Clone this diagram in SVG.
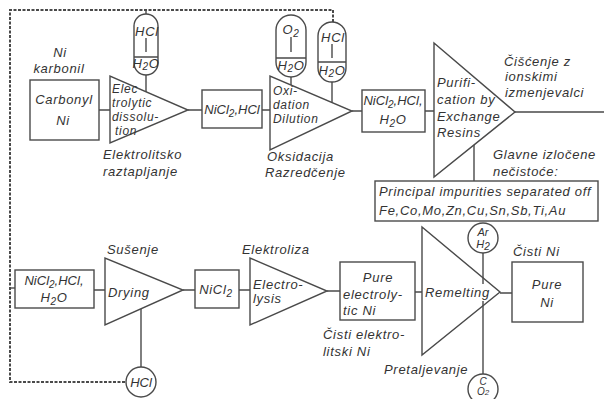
<svg xmlns="http://www.w3.org/2000/svg" width="604" height="399" viewBox="0 0 604 399">
<style>
.s{fill:none;stroke:#4a4a4a;stroke-width:1.4}
.d{fill:none;stroke:#4a4a4a;stroke-width:2;stroke-dasharray:3 1.5}
text{font-family:"Liberation Sans",Arial,sans-serif;font-style:italic;font-size:13px;fill:#333;letter-spacing:0.7px}
.m{text-anchor:middle}
.sub{font-size:10px}
.t{font-size:12px}
</style>
<rect width="604" height="399" fill="#fff"/>
<g id="connectors">
<path class="d" d="M333 22 V10 H10 V382 H126"/>
<path class="s" d="M10 288 H15"/>
<path class="s" d="M146 10 V14"/>
<path class="s" d="M99 110 H110 M188 110 H202 M262 110 H270 M352 111 H362 M425 111 H434 M515 112 H604"/>
<path class="s" d="M146 75 V92 M291 77 V85 M332 82 V102 M474 145 V181"/>
<path class="s" d="M94 290 H105 M183 290 H195 M239 290 H250 M327 291 H340 M415 292 H422 M500 293 H512"/>
<path class="s" d="M141 309 V367 M483 253 V284 M483 301 V374"/>
</g>
<g id="carbonyl-ni">
<rect class="s" x="30" y="80" width="69" height="60"/>
<text class="m" x="64" y="104">Carbonyl</text>
<text class="m" x="63" y="125">Ni</text>
<text class="m" x="60" y="57">Ni</text>
<text class="m" x="59" y="73">karbonil</text>
</g>
<g id="electrolytic-dissolution">
<polygon class="s" points="110,76 110,143 188,110"/>
<text class="t" x="112" y="93">Elec</text>
<text class="t" x="112" y="107">trolytic</text>
<text class="t" x="112" y="121">dissolu-</text>
<text class="t" x="115" y="135">tion</text>
<text x="103" y="159">Elektrolitsko</text>
<text x="103" y="176">raztapljanje</text>
</g>
<g id="hcl-h2o-1">
<rect class="s" x="134" y="14" width="24" height="61" rx="12"/>
<path class="s" d="M146 38 V52 M134 57 H158"/>
<text class="m" x="147" y="36">HCl</text>
<text class="m" x="146" y="68">H<tspan class="sub" dy="2">2</tspan><tspan dy="-2">O</tspan></text>
</g>
<g id="nicl2-hcl">
<rect class="s" x="202" y="90" width="60" height="38"/>
<text class="m" x="232" y="114" style="letter-spacing:0">NiCl<tspan class="sub" dy="3">2</tspan><tspan dy="-3">,HCl</tspan></text>
</g>
<g id="oxidation-dilution">
<polygon class="s" points="270,76 270,150 352,111"/>
<text class="t" x="273" y="95">Oxi-</text>
<text class="t" x="273" y="109">dation</text>
<text class="t" x="273" y="123">Dilution</text>
<text x="267" y="161">Oksidacija</text>
<text x="265" y="177">Razredčenje</text>
</g>
<g id="o2-h2o">
<rect class="s" x="276" y="15" width="30" height="62" rx="15"/>
<path class="s" d="M291 37 V52 M276 58 H306"/>
<text class="m" x="291" y="34">O<tspan class="sub" dy="3">2</tspan></text>
<text class="m" x="291" y="70">H<tspan class="sub" dy="2">2</tspan><tspan dy="-2">O</tspan></text>
</g>
<g id="hcl-h2o-2">
<rect class="s" x="318" y="22" width="28" height="60" rx="14"/>
<path class="s" d="M332 44 V58 M318 62 H346"/>
<text class="m" x="333" y="42">HCl</text>
<text class="m" x="332" y="75">H<tspan class="sub" dy="2">2</tspan><tspan dy="-2">O</tspan></text>
</g>
<g id="nicl2-hcl-h2o-top">
<rect class="s" x="362" y="90" width="63" height="42"/>
<text class="m" x="393" y="105" style="letter-spacing:0">NiCl<tspan class="sub" dy="3">2</tspan><tspan dy="-3">,HCl,</tspan></text>
<text class="m" x="393" y="124">H<tspan class="sub" dy="3">2</tspan><tspan dy="-3">O</tspan></text>
</g>
<g id="purification">
<polygon class="s" points="434,43 434,177 515,112"/>
<text x="437" y="87">Purifi-</text>
<text x="437" y="104">cation by</text>
<text x="437" y="121">Exchange</text>
<text x="437" y="137">Resins</text>
<text x="504" y="66">Čišćenje z</text>
<text x="505" y="81">ionskimi</text>
<text x="505" y="97">izmenjevalci</text>
</g>
<g id="impurities">
<text x="493" y="159">Glavne izločene</text>
<text x="493" y="176">nečistoće:</text>
<rect class="s" x="375" y="181" width="223" height="40"/>
<text x="379" y="196">Principal impurities separated off</text>
<text x="379" y="215">Fe,Co,Mo,Zn,Cu,Sn,Sb,Ti,Au</text>
</g>
<g id="nicl2-hcl-h2o-bottom">
<rect class="s" x="15" y="270" width="79" height="38"/>
<text class="m" x="54" y="285" style="letter-spacing:0">NiCl<tspan class="sub" dy="3">2</tspan><tspan dy="-3">,HCl,</tspan></text>
<text class="m" x="54" y="302">H<tspan class="sub" dy="3">2</tspan><tspan dy="-3">O</tspan></text>
</g>
<g id="drying">
<polygon class="s" points="105,258 105,325 183,290"/>
<text x="108" y="297">Drying</text>
<text x="107" y="254">Sušenje</text>
</g>
<g id="hcl-circle">
<circle class="s" cx="141" cy="382" r="15"/>
<text class="m" x="141" y="387" style="letter-spacing:0">HCl</text>
</g>
<g id="nicl2">
<rect class="s" x="195" y="270" width="44" height="38"/>
<text class="m" x="216" y="294">NiCl<tspan class="sub" dy="3">2</tspan></text>
</g>
<g id="electrolysis">
<polygon class="s" points="250,258 250,325 327,291"/>
<text x="253" y="289">Electro-</text>
<text x="253" y="303">lysis</text>
<text x="242" y="254">Elektroliza</text>
</g>
<g id="pure-electrolytic-ni">
<rect class="s" x="340" y="262" width="75" height="58"/>
<text class="m" x="378" y="282">Pure</text>
<text x="343" y="299">electroly-</text>
<text x="343" y="315">tic  Ni</text>
<text x="323" y="339">Čisti elektro-</text>
<text x="323" y="356">litski Ni</text>
</g>
<g id="remelting">
<polygon class="s" points="422,227 422,355 500,292"/>
<text x="425" y="297">Remelting</text>
<text x="384" y="374">Pretaljevanje</text>
</g>
<g id="ar-h2">
<circle class="s" cx="483" cy="238" r="15"/>
<text class="m" x="483" y="236" style="font-size:11px;letter-spacing:0">Ar</text>
<text class="m" x="483" y="248" style="font-size:11px;letter-spacing:0">H<tspan class="sub" dy="2">2</tspan></text>
</g>
<g id="c-o2">
<circle class="s" cx="483" cy="389" r="15"/>
<text class="m" x="483" y="385" style="font-size:10px;letter-spacing:0">C</text>
<text class="m" x="483" y="395" style="font-size:10px;letter-spacing:0">O<tspan style="font-size:8px">2</tspan></text>
</g>
<g id="pure-ni">
<rect class="s" x="512" y="262" width="71" height="60"/>
<text class="m" x="547" y="289">Pure</text>
<text class="m" x="547" y="307">Ni</text>
<text x="513" y="256">Čisti  Ni</text>
</g>
</svg>
